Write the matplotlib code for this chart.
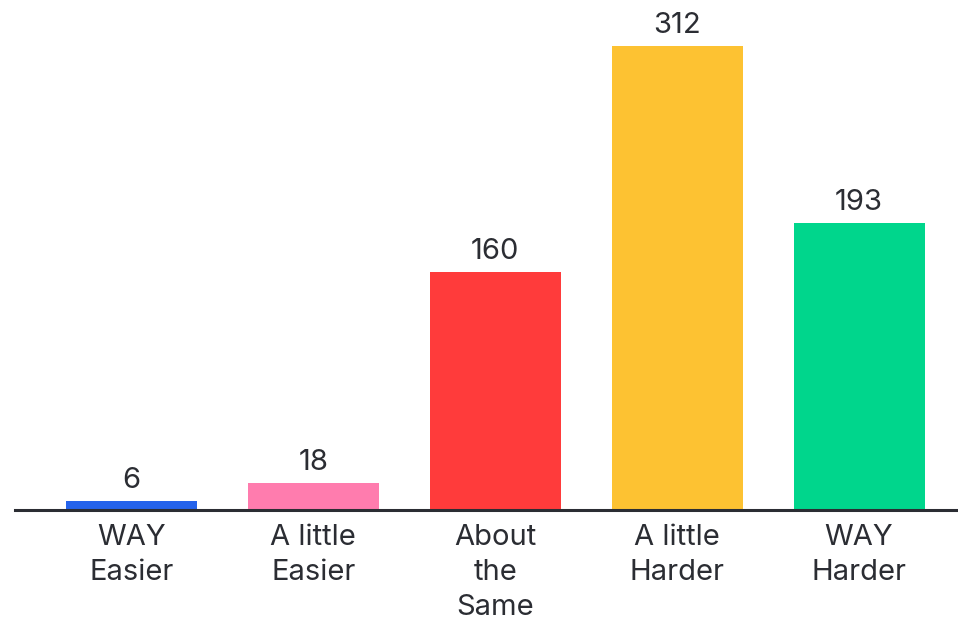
import matplotlib.pyplot as plt

categories = ["WAY\nEasier", "A little\nEasier", "About\nthe\nSame", "A little\nHarder", "WAY\nHarder"]
counts = [6, 18, 160, 312, 193]
colors = ["#2563eb", "#ff7cae", "#ff3b3b", "#fdc232", "#00d68c"]

plt.rcParams['font.family'] = ['Inter', 'DejaVu Sans']
txt = "#2b2d33"

fig = plt.figure(figsize=(9.58, 6.23), dpi=100)
ax = fig.add_axes([15/958, 1 - 510/623, 943/958, 510/623])

x = range(len(counts))
bars = ax.bar(x, counts, width=0.72, color=colors)
for b, v in zip(bars, counts):
    ax.annotate(str(v), (b.get_x() + b.get_width()/2, v), xytext=(0, 5),
                textcoords="offset points", ha="center", va="bottom",
                fontsize=21, color=txt)

ax.set_xlim(-0.64, 4.544)
ax.set_ylim(0, 343)
ax.set_xticks(list(x))
ax.set_xticklabels(categories, fontsize=21, color=txt, linespacing=1.38)
ax.tick_params(axis="x", length=0, pad=10)
ax.set_yticks([])
for s in ["top", "right", "left"]:
    ax.spines[s].set_visible(False)
ax.spines["bottom"].set_color(txt)
ax.spines["bottom"].set_linewidth(2.2)

fig.savefig("out.png", dpi=100)
